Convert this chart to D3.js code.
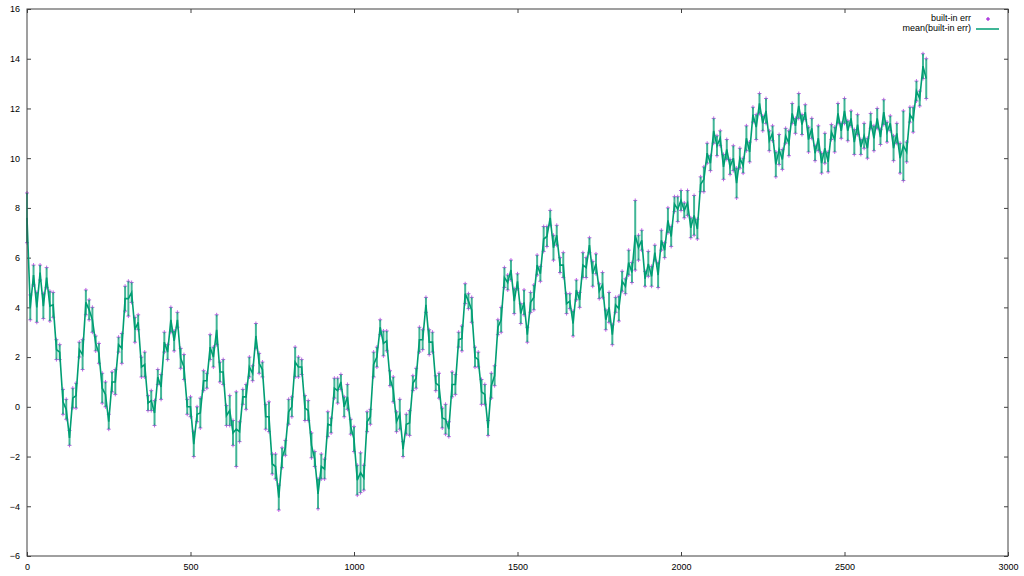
<!DOCTYPE html>
<html>
<head>
<meta charset="utf-8">
<script src="https://cdn.jsdelivr.net/npm/d3@7"></script>
<style>
  html, body { margin: 0; padding: 0; background: #fff; }
  svg { display: block; }
  text { font-family: "Liberation Sans", Arial, sans-serif; font-size: 9px; fill: #000; }
</style>
</head>
<body>
<svg id="chart" width="1024" height="576"></svg>
<script>
// ---- data ----
const seriesNames = ["built-in err", "mean(built-in err)"];
const xValues = d3.range(0, 2760, 10);
const meanValues = [
  7.6, 4.0, 5.3, 4.0, 5.4, 4.05, 5.2, 4.05, 4.1, 2.3,
  2.2, 0.2, -0.1, -1.25, 0.35, 0.45, 2.3, 2.1, 4.2, 3.9,
  3.5, 2.55, 2.15, 0.75, 0.5, -0.6, 1.0, 1.0, 2.5, 2.35,
  4.35, 4.35, 4.6, 3.1, 3.4, 1.6, 1.7, 0.15, 0.25, -0.25,
  1.2, 0.8, 2.6, 2.2, 3.5, 2.65, 3.5, 1.95, 1.6, 0.0,
  0.0, -1.5, -0.3, -0.25, 1.05, 1.05, 2.4, 2.0, 3.1, 1.4,
  1.4, -0.35, -0.15, -1.05, -0.9, -1.0, 0.4, 0.4, 1.6, 1.35,
  2.85, 1.75, 1.5, -0.4, -0.4, -2.3, -2.4, -3.65, -2.05, -1.65,
  -0.2, 0.0, 1.8, 1.6, 1.6, -0.05, -0.15, -1.55, -2.1, -3.5,
  -2.4, -2.5, -0.7, -0.75, 0.75, 0.65, 1.0, 0.0, 0.4, -0.8,
  -1.3, -2.95, -2.65, -2.85, -0.6, -0.4, 1.7, 2.0, 3.2, 2.55,
  2.65, 1.15, 0.7, -0.6, -0.3, -1.7, -0.7, -0.65, 0.95, 1.15,
  2.7, 2.7, 4.1, 2.6, 2.6, 0.95, 0.85, -0.45, -0.5, -0.9,
  0.9, 0.9, 2.7, 2.75, 4.55, 4.25, 3.9, 2.0, 1.9, 0.6,
  0.5, -0.85, 0.85, 1.25, 3.2, 3.5, 5.2, 5.0, 5.5, 4.25,
  5.05, 3.75, 4.2, 2.9, 4.2, 4.4, 5.7, 5.35, 6.75, 6.85,
  7.6, 6.4, 6.9, 5.7, 5.7, 4.15, 4.25, 3.35, 4.7, 4.3,
  5.7, 5.6, 6.5, 5.35, 5.75, 4.65, 4.9, 3.5, 4.0, 2.9,
  4.1, 3.95, 5.05, 4.85, 5.8, 5.4, 6.9, 6.4, 6.7, 5.15,
  5.75, 5.25, 6.2, 5.3, 6.7, 6.3, 7.5, 6.85, 8.15, 7.95,
  8.3, 7.9, 8.2, 7.2, 7.7, 7.15, 8.95, 9.15, 10.2, 9.8,
  11.1, 10.5, 10.8, 9.65, 10.35, 9.65, 10.0, 9.0, 10.0, 9.7,
  10.8, 10.25, 11.75, 11.25, 12.2, 11.4, 11.9, 10.7, 11.0, 9.75,
  10.35, 9.95, 10.9, 10.6, 11.8, 11.3, 12.1, 11.35, 11.85, 10.75,
  11.2, 10.2, 10.8, 9.8, 10.4, 9.85, 11.05, 10.75, 11.8, 11.1,
  11.9, 11.1, 11.6, 10.65, 11.35, 10.45, 10.9, 10.4, 11.5, 10.8,
  11.6, 10.85, 11.85, 11.05, 11.4, 10.4, 11.0, 10.0, 10.5, 10.25,
  11.75, 11.55, 12.7, 12.4, 13.7, 13.2
];
const errValues = [
  1.0, 0.5, 0.4, 0.6, 0.3, 0.5, 0.4, 0.6, 0.5, 0.4, 0.3, 0.5, 0.4, 0.3, 0.4, 0.5, 0.3, 0.6, 0.5, 0.4,
  0.5, 0.3, 0.4, 0.6, 0.5, 0.3, 0.4, 0.5, 0.3, 0.6, 0.5, 0.7, 0.4, 0.5, 0.3, 0.4, 0.5, 0.3, 0.4, 0.5,
  0.3, 0.5, 0.4, 0.3, 0.5, 0.4, 0.3, 0.4, 0.5, 0.3, 0.4, 0.5, 0.3, 0.6, 0.4, 0.3, 0.5, 0.4, 0.6, 0.4,
  0.5, 0.4, 0.6, 0.5, 1.5, 0.4, 0.3, 0.5, 0.4, 0.3, 0.5, 0.4, 0.3, 0.5, 0.6, 0.4, 0.5, 0.5, 0.4, 0.3,
  0.5, 0.4, 0.6, 0.4, 0.3, 0.5, 0.4, 0.5, 0.3, 0.6, 0.5, 0.4, 0.5, 0.3, 0.4, 0.5, 0.3, 0.4, 0.5, 0.3,
  0.5, 0.6, 0.8, 0.5, 0.4, 0.3, 0.5, 0.4, 0.3, 0.5, 0.4, 0.3, 0.5, 0.4, 0.6, 0.3, 0.4, 0.5, 0.3, 0.4,
  0.5, 0.4, 0.3, 0.5, 0.4, 0.3, 0.5, 0.4, 0.6, 0.3, 0.5, 0.4, 0.3, 0.5, 0.4, 0.3, 0.5, 0.4, 0.3, 0.5,
  0.4, 0.3, 0.5, 0.4, 0.3, 0.5, 0.4, 0.3, 0.4, 0.5, 0.3, 0.4, 0.5, 0.3, 0.4, 0.5, 0.4, 0.3, 0.5, 0.4,
  0.3, 0.5, 0.4, 0.3, 0.5, 0.4, 0.3, 0.5, 0.4, 0.3, 0.5, 0.4, 0.3, 0.5, 0.4, 0.3, 0.5, 0.4, 0.6, 0.4,
  0.3, 0.5, 0.4, 0.3, 0.5, 0.4, 1.4, 0.5, 0.4, 0.3, 0.5, 0.4, 0.3, 0.5, 0.4, 0.3, 0.5, 0.4, 0.3, 0.5,
  0.4, 0.3, 0.5, 0.4, 0.8, 0.4, 0.3, 0.5, 0.4, 0.3, 0.5, 0.4, 0.3, 0.5, 0.4, 0.3, 0.5, 0.6, 0.4, 0.3,
  0.5, 0.4, 0.3, 0.5, 0.4, 0.3, 0.5, 0.4, 0.3, 0.5, 0.6, 0.4, 0.3, 0.5, 0.4, 0.3, 0.5, 0.4, 0.3, 0.5,
  0.4, 0.3, 0.5, 0.4, 0.6, 0.4, 0.3, 0.5, 0.4, 0.3, 0.5, 0.4, 0.3, 0.5, 0.4, 0.3, 0.5, 0.4, 0.3, 0.5,
  0.4, 0.3, 0.5, 0.4, 0.3, 0.5, 0.4, 0.6, 1.4, 0.4, 0.3, 0.5, 0.4, 0.3, 0.5, 0.8
];
const xTicks = [0, 500, 1000, 1500, 2000, 2500, 3000];
const yTicks = [-6, -4, -2, 0, 2, 4, 6, 8, 10, 12, 14, 16];

// ---- layout ----
const margin = { left: 27, right: 16, top: 9, bottom: 20 };
const W = 1024, H = 576;
const svg = d3.select("#chart");
const x = d3.scaleLinear().domain([0, 3000]).range([margin.left, W - margin.right]);
const y = d3.scaleLinear().domain([-6, 16]).range([H - margin.bottom, margin.top]);

const purple = "#9400d3";
const green = "#009e73";
const borderCol = "#404040";

const data = xValues.map((xv, i) => ({
  x: xv, m: meanValues[i], lo: meanValues[i] - errValues[i], hi: meanValues[i] + errValues[i]
}));

// ---- axes (gnuplot style: inward ticks mirrored) ----
const tickLen = 4;
const axB = d3.axisBottom(x).tickValues(xTicks).tickSize(-tickLen).tickPadding(8).tickFormat(d3.format("d"));
const axT = d3.axisTop(x).tickValues(xTicks).tickSize(-tickLen).tickFormat("");
const axL = d3.axisLeft(y).tickValues(yTicks).tickSize(-tickLen).tickPadding(7).tickFormat(d3.format("d"));
const axR = d3.axisRight(y).tickValues(yTicks).tickSize(-tickLen).tickFormat("");

function styleAxis(g) {
  g.select(".domain").remove();
  g.selectAll(".tick line").attr("stroke", borderCol);
  g.selectAll(".tick text").attr("font-family", "'Liberation Sans', Arial, sans-serif").attr("font-size", 9).attr("fill", "#000");
}
svg.append("g").attr("transform", `translate(0,${H - margin.bottom})`).call(axB).call(styleAxis);
svg.append("g").attr("transform", `translate(0,${margin.top})`).call(axT).call(styleAxis);
svg.append("g").attr("transform", `translate(${margin.left},0)`).call(axL).call(styleAxis);
svg.append("g").attr("transform", `translate(${W - margin.right},0)`).call(axR).call(styleAxis);

// ---- plot ----
const plot = svg.append("g");

function plus(g, cx, cy, s, col) {
  g.append("path")
    .attr("d", `M${cx - s},${cy}H${cx + s}M${cx},${cy - s}V${cy + s}`)
    .attr("stroke", col).attr("stroke-width", 1).attr("fill", "none");
}
// purple "+" points (built-in err)
const ptsG = plot.append("g").attr("opacity", 0.6);
data.forEach(d => {
  plus(ptsG, x(d.x), y(d.lo), 2, purple);
  plus(ptsG, x(d.x), y(d.hi), 2, purple);
});

// green error bars
const ebG = plot.append("g").attr("stroke", green).attr("fill", "none");
ebG.selectAll("path.eb").data(data).join("path")
  .attr("class", "eb")
  .attr("stroke-width", 2)
  .attr("opacity", 0.75)
  .attr("d", d => {
    const cx = x(d.x), y1 = y(d.lo), y2 = y(d.hi);
    return `M${cx},${y1}V${y2}`;
  });

// green mean line
const line = d3.line().x(d => x(d.x)).y(d => y(d.m));
plot.append("path").datum(data)
  .attr("d", line).attr("fill", "none").attr("stroke", green).attr("stroke-width", 1.6);

// ---- border ----
svg.append("rect")
  .attr("x", margin.left).attr("y", margin.top)
  .attr("width", W - margin.right - margin.left)
  .attr("height", H - margin.bottom - margin.top)
  .attr("fill", "none").attr("stroke", borderCol).attr("stroke-width", 1);

// ---- legend ----
const leg = svg.append("g");
const legTextX = 971;
leg.append("text").attr("x", legTextX).attr("y", 19).attr("text-anchor", "end")
  .attr("dominant-baseline", "middle").text(seriesNames[0]);
plus(leg, 988, 19, 2, purple);
leg.append("text").attr("x", legTextX).attr("y", 29).attr("text-anchor", "end")
  .attr("dominant-baseline", "middle").text(seriesNames[1]);
leg.append("line").attr("x1", 976).attr("x2", 999).attr("y1", 29).attr("y2", 29)
  .attr("stroke", green).attr("stroke-width", 1.5);
</script>
</body>
</html>
